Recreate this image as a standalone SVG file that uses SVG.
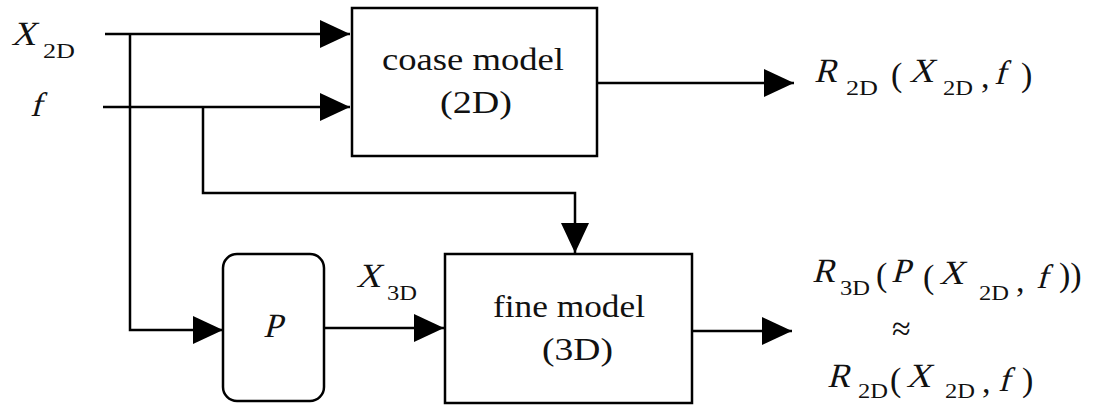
<svg xmlns="http://www.w3.org/2000/svg" width="1095" height="414" viewBox="0 0 1095 414">
<style>
.ln{fill:none;stroke:#000;stroke-width:2.5}
.bx{fill:#fff;stroke:#000;stroke-width:2.5}
text{font-family:'Liberation Serif','DejaVu Serif',serif;fill:#111}
.big{font-size:31px}
.var{font-size:34px}
.rm{font-size:34px}
.sub{font-size:20px}
</style>
<defs>
<marker id="ah" viewBox="0 0 30 28" refX="30" refY="14" markerWidth="30" markerHeight="28" markerUnits="userSpaceOnUse" orient="auto">
<path d="M0,0 L30,14 L0,28 Z" fill="#000"/>
</marker>
</defs>
<rect width="1095" height="414" fill="#fff"/>
<g id="connectors">
<path class="ln" d="M105,34 H350" marker-end="url(#ah)"/>
<path class="ln" d="M103,107 H350" marker-end="url(#ah)"/>
<path class="ln" d="M130,34 V330 H223" marker-end="url(#ah)"/>
<path class="ln" d="M203,107 V193 H575 V253" marker-end="url(#ah)"/>
<path class="ln" d="M324,328 H444" marker-end="url(#ah)"/>
<path class="ln" d="M597,83 H794" marker-end="url(#ah)"/>
<path class="ln" d="M692,331 H792" marker-end="url(#ah)"/>
</g>
<g id="coarse">
<rect class="bx" x="352" y="8" width="245" height="148"/>
<text class="big" x="382" y="70" textLength="182" lengthAdjust="spacingAndGlyphs">coase model</text>
<text class="big" x="440" y="113" textLength="72" lengthAdjust="spacingAndGlyphs">(2D)</text>
</g>
<g id="fine">
<rect class="bx" x="445" y="254" width="247" height="149"/>
<text class="big" x="493" y="317" textLength="152" lengthAdjust="spacingAndGlyphs">fine model</text>
<text class="big" x="542" y="360" textLength="71" lengthAdjust="spacingAndGlyphs">(3D)</text>
</g>
<g id="P">
<rect class="bx" x="223" y="254" width="101" height="147" rx="14" ry="14"/>
<text class="var" transform="translate(263,337) skewX(-15)">P</text>
</g>
<g id="labels">
<text class="var" transform="translate(11,45) skewX(-15)">X</text><text class="sub" x="43" y="58" textLength="32" lengthAdjust="spacingAndGlyphs">2D</text>
<text class="var" transform="translate(30,116) skewX(-15)">f</text>
<text class="var" transform="translate(356,287) skewX(-15)">X</text><text class="sub" x="387" y="300" textLength="30" lengthAdjust="spacingAndGlyphs">3D</text>
<text class="var" transform="translate(814,82) skewX(-15)">R</text><text class="sub" x="846" y="95" textLength="32" lengthAdjust="spacingAndGlyphs">2D</text>
<text class="rm" x="891" y="86">(</text>
<text class="var" transform="translate(909,82) skewX(-15)">X</text><text class="sub" x="943" y="95" textLength="30" lengthAdjust="spacingAndGlyphs">2D</text>
<text class="rm" x="981" y="88">,</text>
<text class="var" transform="translate(994,84) skewX(-15)">f</text>
<text class="rm" x="1021" y="86">)</text>
<text class="var" transform="translate(812,282) skewX(-15)">R</text><text class="sub" x="840" y="295" textLength="30" lengthAdjust="spacingAndGlyphs">3D</text>
<text class="rm" x="876" y="286">(</text>
<text class="var" transform="translate(891,282) skewX(-15)">P</text>
<text class="rm" x="923" y="288">(</text>
<text class="var" transform="translate(939,284) skewX(-15)">X</text><text class="sub" x="979" y="300" textLength="30" lengthAdjust="spacingAndGlyphs">2D</text>
<text class="rm" x="1016" y="292">,</text>
<text class="var" transform="translate(1036,288) skewX(-15)">f</text>
<text class="rm" x="1059" y="286">))</text>
<text class="rm" x="892" y="340">≈</text>
<text class="var" transform="translate(827,387) skewX(-15)">R</text><text class="sub" x="858" y="398" textLength="30" lengthAdjust="spacingAndGlyphs">2D</text>
<text class="rm" x="890" y="391">(</text>
<text class="var" transform="translate(906,387) skewX(-15)">X</text><text class="sub" x="945" y="398" textLength="30" lengthAdjust="spacingAndGlyphs">2D</text>
<text class="rm" x="982" y="393">,</text>
<text class="var" transform="translate(998,391) skewX(-15)">f</text>
<text class="rm" x="1022" y="391">)</text>
</g>
</svg>
